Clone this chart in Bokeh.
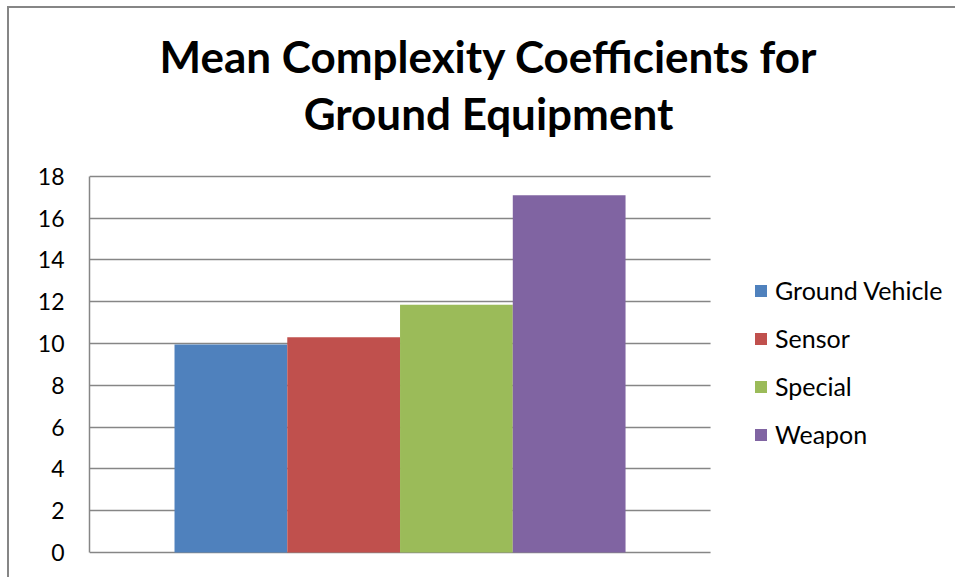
from bokeh.plotting import figure
from bokeh.models import ColumnDataSource, Range1d, Label, Legend, LegendItem, BoxAnnotation
from bokeh.embed import file_html
from bokeh.resources import INLINE

# data
series = ["Ground Vehicle", "Sensor", "Special", "Weapon"]
values = [9.95, 10.3, 11.85, 17.1]
colors = ["#4F81BD", "#C0504D", "#9BBB59", "#8064A2"]
title_lines = ["Mean Complexity Coefficients for", "Ground Equipment"]
y_ticks = [0, 2, 4, 6, 8, 10, 12, 14, 16, 18]

FONT = "Lato"
GRID = "#868686"

PAD = 0.754          # empty space each side of the bar group (in bar widths)
EXTRA_RIGHT = 2.19   # room for the legend to the right of the plot area

xs = list(range(len(series)))

p = figure(
    width=948, height=571,
    x_range=Range1d(-0.5 - PAD, len(series) - 0.5 + PAD + EXTRA_RIGHT),
    y_range=Range1d(-0.1, 26.038),
    output_backend="svg", toolbar_location=None,
    min_border_left=80, min_border_right=0,
    min_border_top=0, min_border_bottom=25,
)
p.styles = {"border-left": "2px solid #868686", "border-top": "2px solid #868686",
            "margin-left": "7px", "margin-top": "6px"}
p.outline_line_color = None
p.background_fill_color = "white"
p.border_fill_color = "white"

renderers = []
for i, (s, v, c) in enumerate(zip(series, values, colors)):
    src = ColumnDataSource(dict(x=[xs[i]], top=[v]))
    renderers.append(p.vbar(x="x", top="top", bottom=0, width=1.0, source=src,
                            fill_color=c, line_color=None))

p.xaxis.visible = False
p.xgrid.visible = False

p.yaxis.ticker = y_ticks
p.yaxis.bounds = (0, 18)
p.yaxis.axis_line_color = GRID
p.yaxis.axis_line_width = 1.5
p.yaxis.major_tick_line_color = None
p.yaxis.minor_tick_line_color = None
p.yaxis.major_tick_out = 0
p.yaxis.major_label_standoff = 25
p.yaxis.major_label_text_font = FONT
p.yaxis.major_label_text_font_size = "23px"
p.yaxis.major_label_text_color = "black"

p.ygrid.ticker = y_ticks
p.ygrid.grid_line_color = GRID
p.ygrid.grid_line_width = 1.5

# hide grid lines beyond the plot area (where legend sits)
p.add_layout(BoxAnnotation(left=len(series) - 0.5 + PAD, fill_color="white",
                           fill_alpha=1.0, line_color=None))

# title as two centred lines
for txt, yy in zip(title_lines, [499, 442]):
    p.add_layout(Label(x=399, y=yy, x_units="screen", y_units="screen",
                       text=txt, text_align="center", text_baseline="alphabetic",
                       text_font=FONT, text_font_style="bold",
                       text_font_size="44px", text_color="black"))

items = [LegendItem(label=s, renderers=[r]) for s, r in zip(series, renderers)]
legend = Legend(items=items, location=(664, 105), orientation="vertical",
                background_fill_alpha=0, border_line_color=None,
                padding=0, margin=0, spacing=18,
                glyph_width=15, glyph_height=15, label_standoff=7,
                label_text_font=FONT, label_text_font_size="25px",
                label_text_color="black")
p.add_layout(legend, "center")

open("out.html", "w").write(file_html(p, INLINE))
